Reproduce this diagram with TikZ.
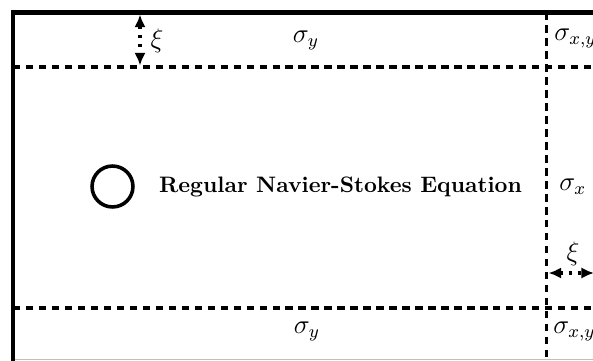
\documentclass[tikz,border=0pt]{standalone}
\usetikzlibrary{arrows.meta}
\begin{document}
\begin{tikzpicture}[x=0.447pt,y=-0.447pt,
  border/.style={line width=2pt},
  divider/.style={line width=1.7pt, dash pattern=on 3.3pt off 2.5pt},
  dim/.style={line width=1.6pt, dash pattern=on 1.4pt off 2.6pt,
    {Latex[length=5.6pt,width=5pt]}-{Latex[length=5.6pt,width=5pt]}},
  lbl/.style={inner sep=0pt},
  ring/.style={circle, draw, line width=1.6pt, minimum size=18.3pt, inner sep=0pt}]
\useasboundingbox (0,0) rectangle (593,360);
\clip (0,0) rectangle (593,360);
% frame corners
\coordinate (TL) at (13,12.5);
\coordinate (TR) at (600,12.5);
\coordinate (BL) at (13,370);
% dividers
\coordinate (h1l) at (13,67);
\coordinate (h1r) at (600,67);
\coordinate (h2l) at (13,308);
\coordinate (h2r) at (600,308);
\coordinate (vt) at (546.5,12.5);
\coordinate (vb) at (546.5,370);
\coordinate (gl) at (13,359.3);
\coordinate (gr) at (600,359.3);
\draw[gray!50, line width=0.4pt] (gl) -- (gr);
\draw[divider] (h1l) -- (h1r);
\draw[divider] (h2l) -- (h2r);
\draw[divider] (vt) -- (vb);
\draw[border] (BL) -- (TL) -- (TR);
% dimension arrows
\coordinate (a1s) at (140,14.5);
\coordinate (a1e) at (140,65.5);
\draw[dim] (a1s) -- (a1e);
\coordinate (a2s) at (548.5,273);
\coordinate (a2e) at (594,273);
\draw[dim] (a2s) -- (a2e);
\node[lbl] (xi1) at (157,41) {\large$\xi$};
\node[lbl] (xi2) at (573,254) {\large$\xi$};
% labels
\node[lbl] (syt) at (306,40) {\large$\sigma_y$};
\node[lbl] (syb) at (307,331) {\large$\sigma_y$};
\node[lbl, anchor=west] (sxyt) at (554,38) {\large$\sigma_{x,y}$};
\node[lbl, anchor=west] (sxyb) at (553,331) {\large$\sigma_{x,y}$};
\node[lbl, anchor=west] (sx) at (559,187) {\large$\sigma_x$};
\node[ring] (c) at (112.5,186.5) {};
\node[lbl] (eq) at (340.5,187) {\textbf{Regular Navier-Stokes Equation}};
\end{tikzpicture}
\end{document}
